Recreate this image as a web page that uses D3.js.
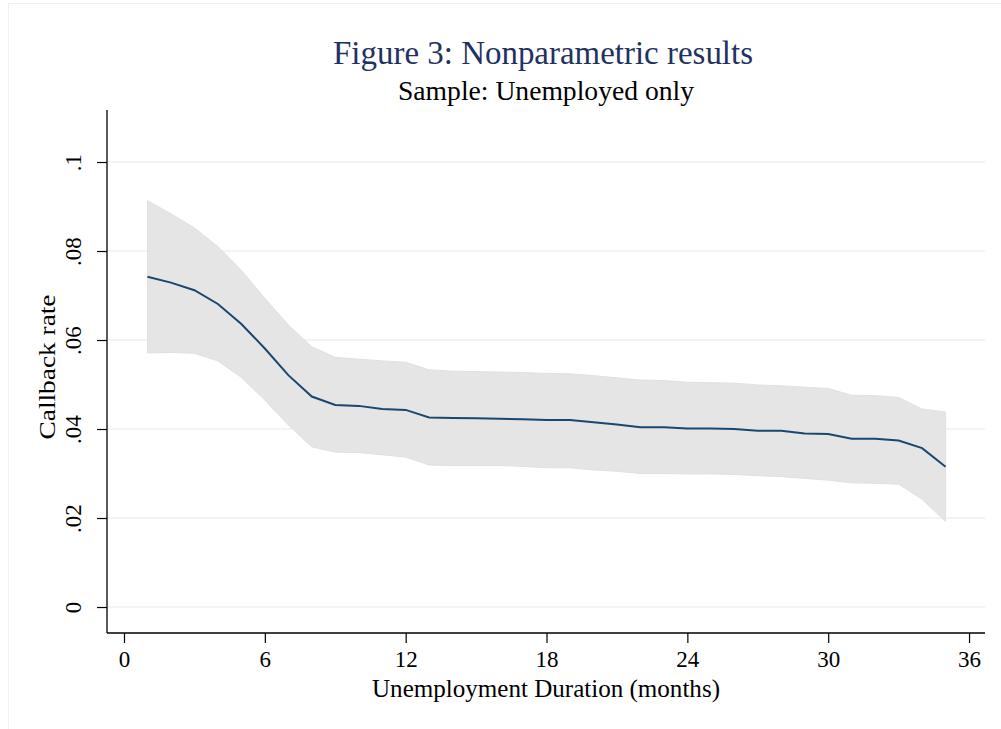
<!DOCTYPE html>
<html>
<head>
<meta charset="utf-8">
<script src="https://cdn.jsdelivr.net/npm/d3@7"></script>
<style>
  html, body { margin: 0; padding: 0; background: #ffffff; }
  svg { display: block; }
  text { font-family: "Liberation Serif", "Times New Roman", serif; }
</style>
</head>
<body>
<svg id="chart" width="1001" height="729"></svg>
<script>
// Unemployment duration in months
const months = [1,2,3,4,5,6,7,8,9,10,11,12,13,14,15,16,17,18,19,20,21,22,23,24,25,26,27,28,29,30,31,32,33,34,35];
// Estimated callback rate
const callback = [0.0742,0.0729,0.0712,0.0681,0.0636,0.0581,0.0521,0.0473,0.0454,0.0452,0.0445,0.0443,0.0426,0.0425,0.0424,0.0423,0.0422,0.0420,0.0420,0.0415,0.0410,0.0404,0.0404,0.0401,0.0401,0.0400,0.0396,0.0396,0.0390,0.0389,0.0378,0.0378,0.0374,0.0357,0.0315];
// Confidence band, upper and lower limits
const upperCI = [0.0913,0.0884,0.0852,0.0810,0.0757,0.0694,0.0634,0.0585,0.0561,0.0557,0.0553,0.0550,0.0533,0.0530,0.0529,0.0528,0.0527,0.0525,0.0524,0.0520,0.0515,0.0510,0.0509,0.0505,0.0504,0.0503,0.0499,0.0497,0.0494,0.0491,0.0476,0.0475,0.0471,0.0445,0.0438];
const lowerCI = [0.0571,0.0572,0.0570,0.0553,0.0516,0.0465,0.0409,0.0360,0.0348,0.0347,0.0342,0.0337,0.0319,0.0318,0.0318,0.0318,0.0316,0.0313,0.0313,0.0308,0.0305,0.0300,0.0300,0.0299,0.0299,0.0298,0.0295,0.0293,0.0289,0.0285,0.0279,0.0278,0.0276,0.0242,0.0192];
// Axis ticks
const xTicks = [0,6,12,18,24,30,36];
const yTicks = [0,0.02,0.04,0.06,0.08,0.1];
const yTickLabels = ["0",".02",".04",".06",".08",".1"];

const svg = d3.select("#chart");
const plot = { left: 107, right: 985, top: 110, bottom: 633 };
const serif = "'Liberation Serif', 'Times New Roman', serif";

const x = d3.scaleLinear().domain([-0.724, 36.68]).range([plot.left, plot.right]);
const y = d3.scaleLinear().domain([-0.00584, 0.11169]).range([plot.bottom, plot.top]);

// outer frame of the graph region
svg.append("rect")
  .attr("x", 8.5).attr("y", 3.5).attr("width", 1010).attr("height", 740)
  .attr("fill", "#ffffff").attr("stroke", "#eaf2f3").attr("stroke-width", 1);

// horizontal gridlines
svg.append("g").selectAll("line").data(yTicks).join("line")
  .attr("x1", plot.left).attr("x2", plot.right)
  .attr("y1", d => y(d)).attr("y2", d => y(d))
  .attr("stroke", "#eaf2f3").attr("stroke-width", 1.5);

const rows = months.map((m, i) => ({ m, v: callback[i], hi: upperCI[i], lo: lowerCI[i] }));

// confidence band
svg.append("path").datum(rows)
  .attr("d", d3.area().x(d => x(d.m)).y0(d => y(d.lo)).y1(d => y(d.hi)))
  .attr("fill", "#e5e5e5").attr("stroke", "#e1e1e1").attr("stroke-width", 1);

// point estimate
svg.append("path").datum(rows)
  .attr("d", d3.line().x(d => x(d.m)).y(d => y(d.v)))
  .attr("fill", "none").attr("stroke", "#1a476f").attr("stroke-width", 2);

// y axis
const yAxis = svg.append("g").attr("transform", `translate(${plot.left},0)`)
  .call(d3.axisLeft(y).tickValues(yTicks).tickSize(10).tickPadding(0).tickFormat((d, i) => yTickLabels[i]));
yAxis.select(".domain").attr("d", `M0,${plot.top}V${plot.bottom}`).attr("stroke", "#000").attr("stroke-width", 1.3);
yAxis.selectAll(".tick line").attr("stroke", "#000").attr("stroke-width", 1.2);
yAxis.selectAll(".tick text")
  .attr("transform", "translate(-26,0) rotate(-90)")
  .attr("x", 0).attr("y", 0).attr("dy", 0)
  .attr("text-anchor", "middle")
  .attr("font-size", 23).attr("fill", "#000")
  .style("font-family", serif);

// x axis
const xAxis = svg.append("g").attr("transform", `translate(0,${plot.bottom})`)
  .call(d3.axisBottom(x).tickValues(xTicks).tickSize(10).tickPadding(0).tickFormat(d3.format("d")));
xAxis.select(".domain").attr("d", `M${plot.left},0H${plot.right}`).attr("stroke", "#000").attr("stroke-width", 1.3);
xAxis.selectAll(".tick line").attr("stroke", "#000").attr("stroke-width", 1.2);
xAxis.selectAll(".tick text")
  .attr("y", 34).attr("dy", 0)
  .attr("font-size", 23).attr("fill", "#000")
  .style("font-family", serif);

// axis titles
svg.append("text")
  .attr("x", 546).attr("y", 697)
  .attr("text-anchor", "middle").attr("font-size", 26).attr("fill", "#000")
  .attr("textLength", 348).attr("lengthAdjust", "spacingAndGlyphs")
  .text("Unemployment Duration (months)");

svg.append("text")
  .attr("transform", `translate(55,367) rotate(-90)`)
  .attr("text-anchor", "middle").attr("font-size", 24).attr("fill", "#000")
  .attr("textLength", 145).attr("lengthAdjust", "spacingAndGlyphs")
  .text("Callback rate");

// titles
svg.append("text")
  .attr("x", 543).attr("y", 64)
  .attr("text-anchor", "middle").attr("font-size", 33).attr("fill", "#1f3262")
  .attr("textLength", 420).attr("lengthAdjust", "spacingAndGlyphs")
  .text("Figure 3: Nonparametric results");

svg.append("text")
  .attr("x", 546).attr("y", 100)
  .attr("text-anchor", "middle").attr("font-size", 27).attr("fill", "#000")
  .attr("textLength", 296).attr("lengthAdjust", "spacingAndGlyphs")
  .text("Sample: Unemployed only");
</script>
</body>
</html>
